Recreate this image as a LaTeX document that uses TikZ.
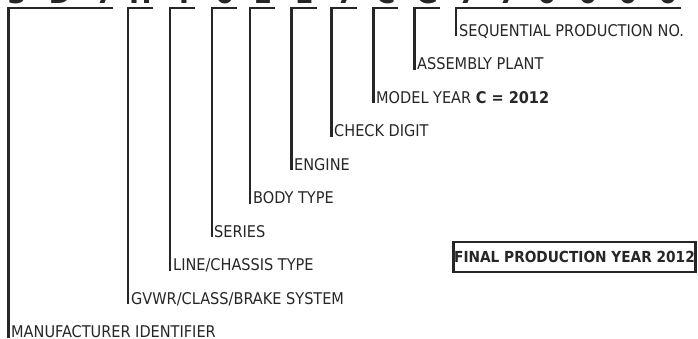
\documentclass[tikz,border=0pt]{standalone}
\usepackage{fontspec}
\setmainfont{DejaVu Sans Condensed}
\begin{document}
\begin{tikzpicture}[x=1bp,y=-1bp,
  lbl/.style={anchor=base west, inner sep=0pt, font=\fontsize{16.2}{16}\selectfont, text=black!85},
  brk/.style={line width=2.5bp, line cap=butt, line join=miter, draw=black!85},
  vin/.style={anchor=base, inner sep=0pt, font=\fontsize{30}{30}\selectfont\bfseries, text=black!85}]
\useasboundingbox (0,0) rectangle (698,338);
\begin{scope}
\clip (0,0) rectangle (698,338);
\foreach \c/\x [count=\i] in {3/17,D/60,7/105,H/140.5,T/184,6/224.5,1/262.5,1/304,7/346,C/385.5,G/427,7/468,7/508,0/547,0/588,0/628,0/668}
  \node[vin] (v\i) at (\x,3) {\c};
\end{scope}
% labels
\node[lbl] (l1)  at (11,337.5) {MANUFACTURER IDENTIFIER};
\node[lbl] (l2)  at (131,304) {GVWR/CLASS/BRAKE SYSTEM};
\node[lbl] (l3)  at (173,270.5) {LINE/CHASSIS TYPE};
\node[lbl] (l4)  at (214,237) {SERIES};
\node[lbl] (l5)  at (253,203.5) {BODY TYPE};
\node[lbl] (l6)  at (294,170) {ENGINE};
\node[lbl] (l7)  at (334,136.5) {CHECK DIGIT};
\node[lbl] (l8)  at (376,103) {MODEL YEAR \textbf{C = 2012}};
\node[lbl] (l9)  at (417,69.5) {ASSEMBLY PLANT};
\node[lbl] (l10) at (459,36) {SEQUENTIAL PRODUCTION NO.};
% bracket corners and ends
\coordinate (c1) at (8.5,8);    \coordinate (e1) at (113,8);
\coordinate (c2) at (128,8);    \coordinate (e2) at (153,8);
\coordinate (c3) at (170,8);    \coordinate (e3) at (195,8);
\coordinate (c4) at (212,8);    \coordinate (e4) at (237,8);
\coordinate (c5) at (250,8);    \coordinate (e5) at (275,8);
\coordinate (c6) at (291.5,8);  \coordinate (e6) at (317,8);
\coordinate (c7) at (331.5,8);  \coordinate (e7) at (357,8);
\coordinate (c8) at (373.5,8);  \coordinate (e8) at (398,8);
\coordinate (c9) at (414.5,8);  \coordinate (e9) at (440,8);
\coordinate (c10) at (456,8);   \coordinate (e10) at (681,8);
\foreach \i in {1,...,10}
  \draw[brk] (e\i) -- (c\i) -- (c\i |- l\i.base);
% final box
\node[draw=black!85, line width=2.5bp, inner sep=0pt, minimum width=242.5, minimum height=30,
      font=\fontsize{15.3}{15}\selectfont\bfseries, text=black!85] (fin) at (574.5,257) {FINAL PRODUCTION YEAR 2012};
\end{tikzpicture}
\end{document}
